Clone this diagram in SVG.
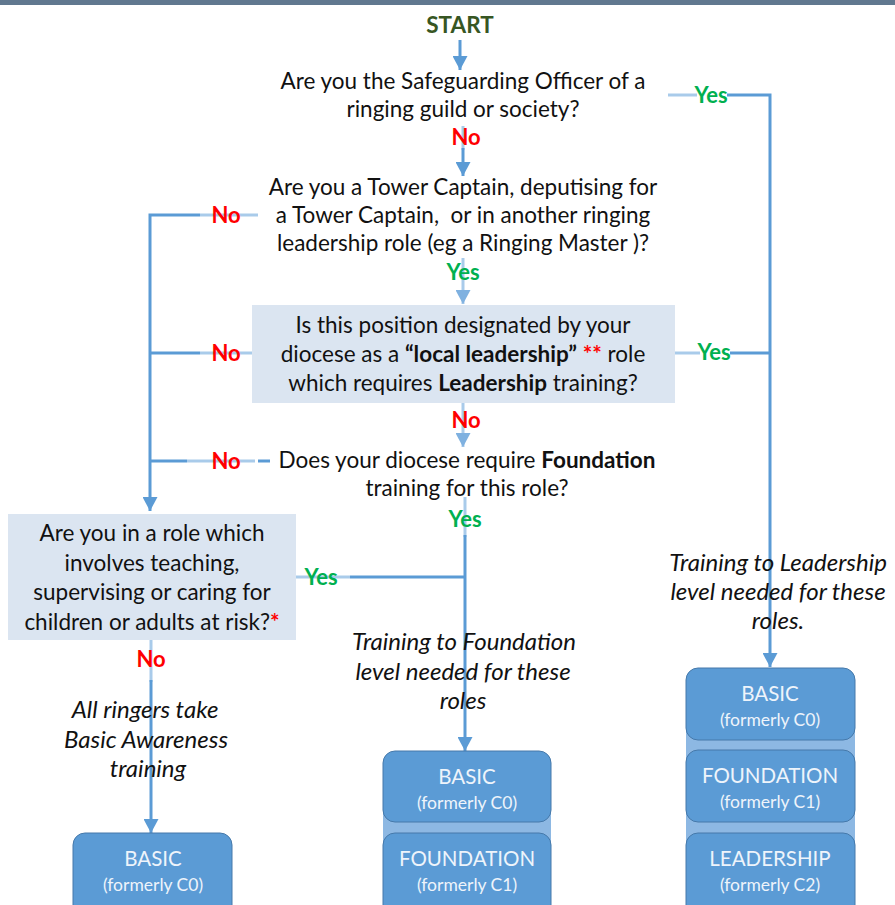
<svg xmlns="http://www.w3.org/2000/svg" width="895" height="905" viewBox="0 0 895 905">
<defs>
<marker id="ah" markerUnits="userSpaceOnUse" markerWidth="15" markerHeight="15" refX="14" refY="7.5" orient="auto"><path d="M0,0 L14,7.5 L0,15 z" fill="#5b9bd5"/></marker>
<marker id="ahl" markerUnits="userSpaceOnUse" markerWidth="15" markerHeight="15" refX="14" refY="7.5" orient="auto"><path d="M0,0 L14,7.5 L0,15 z" fill="#7fb1e0"/></marker>
</defs>
<style>
text{font-family:Lato,"Liberation Sans",sans-serif;}
.q{font-size:22.5px;fill:#111;text-anchor:middle;}
.it{font-size:24px;font-style:italic;fill:#111;text-anchor:middle;}
.yes{font-size:22px;font-weight:bold;fill:#00b050;text-anchor:middle;}
.no{font-size:22px;font-weight:bold;fill:#ff0000;text-anchor:middle;}
.d{stroke:#5b9bd5;stroke-width:3;fill:none;}
.l{stroke:#a9cbea;stroke-width:3;fill:none;}
.qb{fill:#dbe5f1;}
.lv{fill:#5b9bd5;stroke:#4679aa;stroke-width:1;}
.pan{fill:#8db8e3;}
.t1{font-size:20.5px;fill:#eef4fb;text-anchor:middle;}
.t2{font-size:17.5px;fill:#eef4fb;text-anchor:middle;}
.b{font-weight:bold;}
.r{fill:#ff0000;font-weight:bold;}
</style>
<rect x="0" y="0" width="895" height="905" fill="#ffffff"/>
<rect x="0" y="0" width="895" height="5" fill="#61788f"/>

<g id="connectors">
<path class="d" d="M460,40 V70" marker-end="url(#ah)"/>
<path class="l" d="M463,126 V150"/>
<path class="d" d="M463,148 V176" marker-end="url(#ah)"/>
<path class="l" d="M668,95 H697"/>
<path class="d" d="M727,95 H770 V667" marker-end="url(#ah)"/>
<path class="l" d="M258,215 H200"/>
<path class="d" d="M200,215 H150 V511" marker-end="url(#ah)"/>
<path class="l" d="M463,258 V304" marker-end="url(#ahl)"/>
<path class="l" d="M252,353 H200"/>
<path class="d" d="M200,353 H150"/>
<path class="l" d="M675,353 H700"/>
<path class="d" d="M730,353 H770"/>
<path class="l" d="M463,403 V447" marker-end="url(#ahl)"/>
<path class="l" d="M255,461 H187"/>
<path class="d" d="M187,461 H150"/>
<path class="d" d="M258,461 H270"/>
<path class="l" d="M465,497 V537"/>
<path class="d" d="M465,535 V751" marker-end="url(#ah)"/>
<path class="l" d="M296,577 H350"/>
<path class="d" d="M350,577 H465"/>
<path class="l" d="M151,640 V682"/>
<path class="d" d="M151,680 V833" marker-end="url(#ah)"/>
</g>

<g id="start"><text x="460" y="33" text-anchor="middle" style="font-size:22.5px;font-weight:bold;fill:#375623">START</text></g>

<g id="q1">
<text class="q" x="463" y="89">Are you the Safeguarding Officer of a</text>
<text class="q" x="463" y="117">ringing guild or society?</text>
</g>

<g id="q2">
<text class="q" x="463" y="195">Are you a Tower Captain, deputising for</text>
<text class="q" x="463" y="223" xml:space="preserve">a Tower Captain,  or in another ringing</text>
<text class="q" x="463" y="251">leadership role (eg a Ringing Master )?</text>
</g>

<g id="q3">
<rect class="qb" x="252" y="305" width="423" height="98"/>
<text class="q" x="463" y="333">Is this position designated by your</text>
<text class="q" x="463" y="362">diocese as a <tspan class="b">“local leadership”</tspan> <tspan class="r">**</tspan> role</text>
<text class="q" x="463" y="391">which requires <tspan class="b">Leadership</tspan> training?</text>
</g>

<g id="q4">
<text class="q" x="467" y="468">Does your diocese require <tspan class="b">Foundation</tspan></text>
<text class="q" x="467" y="496">training for this role?</text>
</g>

<g id="q5">
<rect class="qb" x="8" y="514" width="288" height="126"/>
<text class="q" x="152" y="541">Are you in a role which</text>
<text class="q" x="152" y="571">involves teaching,</text>
<text class="q" x="152" y="600">supervising or caring for</text>
<text class="q" x="152" y="630">children or adults at risk?<tspan class="r">*</tspan></text>
</g>

<g id="labels">
<text class="no" x="466" y="145">No</text>
<text class="yes" x="711" y="103">Yes</text>
<text class="no" x="226" y="223">No</text>
<text class="yes" x="463" y="280">Yes</text>
<text class="no" x="226" y="361">No</text>
<text class="yes" x="714" y="360">Yes</text>
<text class="no" x="466" y="428">No</text>
<text class="no" x="226" y="469">No</text>
<text class="yes" x="465" y="527">Yes</text>
<text class="yes" x="321" y="585">Yes</text>
<text class="no" x="151" y="667">No</text>
</g>

<g id="note-basic">
<text class="it" x="145" y="718">All ringers take</text>
<text class="it" x="146" y="748">Basic Awareness</text>
<text class="it" x="148" y="777">training</text>
</g>
<g id="note-foundation">
<text class="it" x="464" y="650">Training to Foundation</text>
<text class="it" x="463" y="680">level needed for these</text>
<text class="it" x="463" y="709">roles</text>
</g>
<g id="note-leadership">
<text class="it" x="778" y="571">Training to Leadership</text>
<text class="it" x="778" y="600">level needed for these</text>
<text class="it" x="778" y="629">roles.</text>
</g>

<g id="level-left">
<rect class="lv" x="73" y="833" width="159" height="85" rx="12"/>
<text class="t1" x="153" y="866">BASIC</text>
<text class="t2" x="153" y="891">(formerly C0)</text>
</g>

<g id="level-middle">
<rect class="pan" x="383" y="765" width="168" height="140"/>
<rect class="lv" x="383" y="751" width="168" height="71" rx="12"/>
<text class="t1" x="467" y="784">BASIC</text>
<text class="t2" x="467" y="809">(formerly C0)</text>
<rect class="lv" x="383" y="833" width="168" height="85" rx="12"/>
<text class="t1" x="467" y="866">FOUNDATION</text>
<text class="t2" x="467" y="891">(formerly C1)</text>
</g>

<g id="level-right">
<rect class="pan" x="686" y="682" width="169" height="223"/>
<rect class="lv" x="686" y="668" width="169" height="72" rx="12"/>
<text class="t1" x="770" y="701">BASIC</text>
<text class="t2" x="770" y="726">(formerly C0)</text>
<rect class="lv" x="686" y="750" width="169" height="72" rx="12"/>
<text class="t1" x="770" y="783">FOUNDATION</text>
<text class="t2" x="770" y="808">(formerly C1)</text>
<rect class="lv" x="686" y="833" width="169" height="85" rx="12"/>
<text class="t1" x="770" y="866">LEADERSHIP</text>
<text class="t2" x="770" y="891">(formerly C2)</text>
</g>
</svg>
